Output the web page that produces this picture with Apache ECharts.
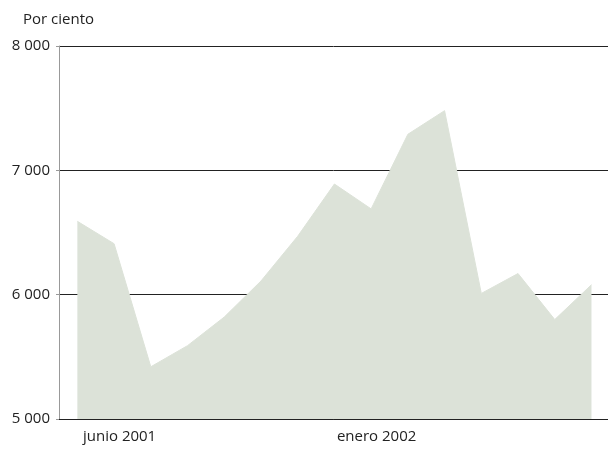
<!DOCTYPE html>
<html>
<head>
<meta charset="utf-8">
<script src="https://cdn.jsdelivr.net/npm/echarts@6/dist/echarts.min.js"></script>
<style>html,body{margin:0;padding:0;background:#fff}#c{width:608px;height:450px}</style>
</head>
<body>
<div id="c"></div>
<script>
var months = ['mayo 2001','junio 2001','julio 2001','agosto 2001','septiembre 2001','octubre 2001','noviembre 2001','diciembre 2001','enero 2002','febrero 2002','marzo 2002','abril 2002','mayo 2002','junio 2002','julio 2002'];
var values = [6590, 6410, 5420, 5590, 5820, 6110, 6470, 6890, 6690, 7290, 7480, 6010, 6170, 5800, 6080];
var shownLabels = ['junio 2001', 'enero 2002'];
var yTicks = [5000, 6000, 7000, 8000];
var yTitle = 'Por ciento';

var chart = echarts.init(document.getElementById('c'));
var pts = values.map(function(v, i){ return [i, v]; });
var labelIdx = shownLabels.map(function(l){ return months.indexOf(l); });
chart.setOption({
  animation: false,
  textStyle: {fontFamily: 'Open Sans'},
  grid: {left: 59, right: 0, top: 46, bottom: 31},
  graphic: [{type: 'text', left: 23, top: 12, style: {text: yTitle, fontSize: 15, fill: '#222', fontFamily: 'Open Sans'}}],
  xAxis: {
    type: 'value', min: -0.5, max: 14.45,
    axisLine: {show: true, onZero: false, lineStyle: {color: '#222', width: 1}},
    axisTick: {show: false},
    splitLine: {show: false},
    axisLabel: {
      color: '#222', fontSize: 15, margin: 10, padding: [0, 0, 0, 11],
      customValues: labelIdx,
      formatter: function(v){ return months[Math.round(v)]; }
    }
  },
  yAxis: {
    type: 'value', min: yTicks[0], max: yTicks[yTicks.length-1], interval: 1000,
    axisLine: {show: true, onZero: false, lineStyle: {color: '#999', width: 1}},
    axisTick: {show: true, length: 3, lineStyle: {color: '#999'}},
    splitLine: {show: true, lineStyle: {color: '#222', width: 1}},
    axisLabel: {color: '#222', fontSize: 15, margin: 9, padding: [8, 0, 0, 0], formatter: function(v){ return String(v).replace(/\B(?=(\d{3})+(?!\d))/g, ' '); }}
  },
  series: [{
    type: 'line', data: pts, symbol: 'none',
    lineStyle: {width: 1, color: '#dce2d8'},
    areaStyle: {color: '#dce2d8', opacity: 1, origin: 'start'}
  }]
});
</script>
</body>
</html>
